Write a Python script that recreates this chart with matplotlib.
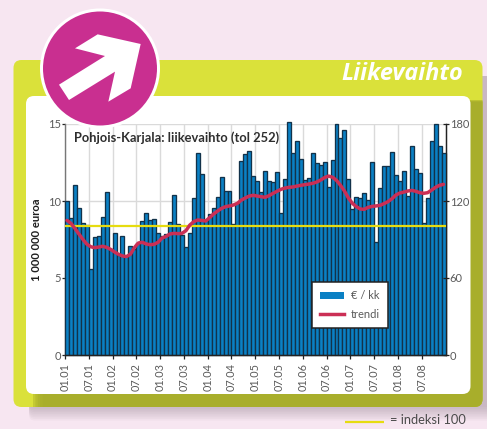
import matplotlib
matplotlib.use("Agg")
import matplotlib.pyplot as plt
from matplotlib.patches import FancyBboxPatch, Circle, Polygon, Patch
from matplotlib.lines import Line2D

W, H = 487, 429
BG = "#F7E6F1"
plt.rcParams['font.family'] = ['Lato', 'DejaVu Sans']

# Monthly turnover, million euro, 01.2001 - 12.2008
values = [10.0, 8.87, 11.06, 9.52, 8.55, 8.44, 5.58, 7.68, 7.7, 8.94, 10.56, 6.86,
          7.94, 6.5, 7.75, 6.4, 7.1, 6.9, 7.3, 8.68, 9.2, 8.77, 8.83, 7.94,
          7.75, 7.86, 8.66, 10.4, 8.49, 7.8, 7.03, 7.9, 10.17, 13.1, 11.73, 8.77,
          9.13, 9.52, 10.24, 11.58, 10.65, 10.65, 8.5, 9.85, 12.6, 13.03, 13.27, 11.62,
          11.3, 10.6, 11.97, 11.3, 11.26, 11.88, 9.2, 11.4, 15.13, 13.14, 13.9, 12.75,
          11.36, 11.5, 13.1, 12.45, 12.36, 12.55, 10.9, 12.64, 15.0, 14.1, 14.6, 11.45,
          9.5, 10.28, 10.17, 10.5, 10.06, 12.53, 7.32, 10.87, 12.27, 12.3, 13.2, 11.67,
          11.28, 11.97, 10.35, 13.6, 12.05, 11.84, 8.6, 10.17, 13.87, 14.98, 13.6, 13.1]
# Trend read on the left-hand scale
trend = [8.74, 8.55, 8.22, 7.86, 7.51, 7.2, 7.03, 6.97, 7.01, 7.06, 6.99, 6.86,
         6.69, 6.54, 6.43, 6.39, 6.54, 6.97, 7.27, 7.32, 7.21, 7.16, 7.19, 7.32,
         7.6, 7.7, 7.86, 7.9, 7.88, 7.9, 8.07, 8.44, 8.66, 8.77, 8.74, 8.7,
         8.92, 9.16, 9.35, 9.52, 9.63, 9.68, 9.74, 9.85, 10.06, 10.2, 10.32, 10.37,
         10.32, 10.28, 10.24, 10.35, 10.5, 10.63, 10.76, 10.84, 10.89, 10.91, 10.97, 11.02,
         11.06, 11.1, 11.15, 11.23, 11.36, 11.52, 11.62, 11.54, 11.34, 11.02, 10.65, 10.2,
         9.85, 9.63, 9.48, 9.46, 9.59, 9.65, 9.68, 9.72, 9.83, 9.96, 10.15, 10.39,
         10.52, 10.58, 10.65, 10.69, 10.63, 10.54, 10.5, 10.54, 10.71, 10.89, 11.02, 11.08]
tick_labels = ["01.01", "07.01", "01.02", "07.02", "01.03", "07.03", "01.04", "07.04",
               "01.05", "07.05", "01.06", "07.06", "01.07", "07.07", "01.08", "07.08"]
left_ticks = [0, 5, 10, 15]
right_ticks = [0, 60, 120, 180]
index_level = 100.5
title = "Pohjois-Karjala: liikevaihto (tol 252)"
header = "Liikevaihto"
ylabel = "1 000 000 euroa"
legend_labels = ["€ / kk", "trendi"]
index_note = "= indeksi 100"
arrow = [(177, 254), (315, 168), (225, 145), (293, 103), (422, 132),
         (392, 265), (325, 305), (345, 215), (207, 300)]

BLUE, EDGE, RED, YEL = "#0A80C4", "#12324A", "#CB2F55", "#E6DC10"
GREY = "#5A5A5A"

fig = plt.figure(figsize=(W / 100, H / 100), dpi=100, facecolor=BG)


def px_axes(z):
    a = fig.add_axes([0, 0, 1, 1], zorder=z)
    a.set_xlim(0, W)
    a.set_ylim(H, 0)
    a.axis("off")
    return a


def rbox(a, x0, y0, x1, y1, r, **kw):
    p = FancyBboxPatch((x0 + r, y0 + r), x1 - x0 - 2 * r, y1 - y0 - 2 * r,
                       boxstyle=f"round,pad={r},rounding_size={r}", linewidth=0, **kw)
    a.add_patch(p)
    return p


bg = px_axes(0)
# soft drop shadow
for k in range(9):
    rbox(bg, 29, 76, 496, 407 + k * 1.7, 6, facecolor="#8A7A88", alpha=0.055)
# green frame
panel = rbox(bg, 13.5, 60, 482.5, 407, 8, facecolor="#DAE13A")
# darker inner shadow of the white card
for k in range(5):
    s = rbox(bg, 33 + k * 2.4, 100 + k * 0.5, 500, 430, 8, facecolor="#A6AC2B", alpha=0.42)
    s.set_clip_path(panel)
rbox(bg, 26, 96, 470.5, 394, 8, facecolor="white")

# main chart, pixel-aligned: x 65..445.5, y 124..355
ax = fig.add_axes([65 / W, 1 - 355 / H, 380.5 / W, 231 / H], zorder=2)
ax.patch.set_alpha(0)
months = list(range(len(values)))
centers = [m + 0.5 for m in months]
ax.bar(centers, values, width=1.0, color=BLUE, edgecolor=EDGE, linewidth=0.95,
       clip_on=False, zorder=3)
ax.set_xlim(0, 96)
ax.set_ylim(0, 15)
tick_pos = [i * 6 for i in range(len(tick_labels))]
ax.set_xticks(tick_pos)
ax.set_xticklabels(tick_labels, rotation=90, fontsize=7.8, color=GREY)
ax.set_yticks(left_ticks)
ax.set_yticklabels([str(t) for t in left_ticks], fontsize=8, color=GREY)
ax.grid(True, color="#DADADA", linewidth=1.0, zorder=0)
ax.set_axisbelow(True)
ax.tick_params(axis="x", direction="out", length=3, width=0.9, color="#222222", pad=2.5)
ax.tick_params(axis="y", direction="out", length=2.5, width=0.9, color="#222222", pad=0.5)
for name, sp in ax.spines.items():
    sp.set_color("#222222" if name != "left" else "#777777")
    sp.set_linewidth(1.0)
ax.spines["top"].set_visible(False)
ax.spines["bottom"].set_zorder(5)

ax2 = ax.twinx()
ax2.set_zorder(2)
ax2.patch.set_alpha(0)
ax2.set_ylim(0, 180)
ax2.set_yticks(right_ticks)
ax2.set_yticklabels([str(t) for t in right_ticks], fontsize=8, color=GREY)
ax2.tick_params(axis="y", direction="inout", length=5, width=0.9, color="#222222", pad=0.5)
for name, sp in ax2.spines.items():
    sp.set_visible(name == "right")
    sp.set_color("#222222")
ax2.axhline(index_level, color=YEL, linewidth=1.6, zorder=4)
trend_index = [v * 12 for v in trend]
ax2.plot(centers, trend_index, color=RED, linewidth=2.5, solid_joinstyle="round",
         solid_capstyle="round", zorder=5)

handles = [Patch(facecolor=BLUE, edgecolor="none"),
           Line2D([], [], color=RED, linewidth=2.5)]
leg = ax2.legend(handles, legend_labels, loc="center",
                 bbox_to_anchor=((350 - 65) / 380.5, (355 - 305) / 231),
                 fontsize=8, frameon=True, fancybox=False, framealpha=1, facecolor="white",
                 edgecolor="#222222", handlelength=2.2, handleheight=0.55, handletextpad=0.6,
                 labelspacing=0.65, borderpad=0.75, borderaxespad=0, labelcolor=GREY)
leg.get_frame().set_linewidth(1.1)
leg.set_zorder(6)

top = px_axes(3)
top.text(73.5, 138, title, fontsize=9.3, fontweight="bold", color="#2E2E2E", va="center", ha="left")
top.text(36.5, 240, ylabel, fontsize=8.1, fontweight="bold", color="#1E1E1E",
         rotation=90, va="center", ha="center")
top.add_patch(Circle((100, 68.5), 60, facecolor="white", edgecolor="none"))
top.add_patch(Circle((100, 68.5), 57, facecolor="#C92F90", edgecolor="none"))
top.add_patch(Polygon([(x / 3, y / 3) for x, y in arrow], closed=True, facecolor="white",
                      edgecolor="none"))
top.text(463.5, 74, header, fontsize=16.8, fontweight="bold", style="italic", color="white",
         ha="right", va="center", family=["Open Sans", "DejaVu Sans"])
top.plot([345, 384], [422, 422], color=YEL, linewidth=1.6, solid_capstyle="butt")
top.text(390, 420.5, index_note, fontsize=9.3, color="#4A4A4A", va="center", ha="left")

fig.savefig("out.png", dpi=100, facecolor=BG)
